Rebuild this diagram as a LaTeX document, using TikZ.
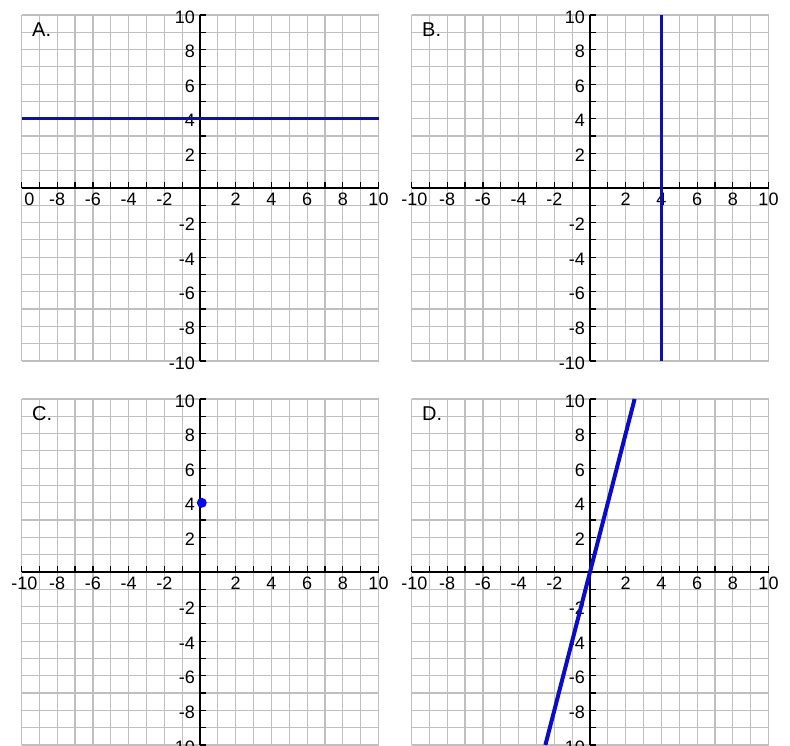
\documentclass[tikz,border=0pt]{standalone}
\usepackage{fontspec}
\setmainfont{Liberation Sans}
\definecolor{navyline}{RGB}{18,18,150}
\definecolor{steepline}{RGB}{12,12,200}
\definecolor{dotblue}{RGB}{10,10,235}

\begin{document}
\begin{tikzpicture}[
      x=1pt,y=1pt,
      frame/.style 2 args={shift={(#1,#2)},x=17.85pt,y=17.3pt},
      gridline/.style={draw=gray!50,line width=1.2pt},
      axis/.style={draw=black,line width=1.5pt},
      tickmark/.style={draw=black,line width=1.2pt},
      num/.style={font=\fontsize{18}{18}\selectfont,inner sep=0pt},
      tag/.style={font=\fontsize{20}{20}\selectfont,inner sep=0pt,anchor=base west},
      graph/.style={draw=navyline,line width=3pt}
    ]
    \clip (0,0) rectangle (790,746);
    \fill[white] (0,0) rectangle (790,746);
    \foreach \p/\ox/\oy in {A/200/558,B/590/558,C/200/174,D/590/174}{
      \begin{scope}[frame={\ox}{\oy}]
        \foreach \k in {-10,...,10}{
          \draw[gridline] (\k,-10) -- (\k,10);
          \draw[gridline] (-10,\k) -- (10,\k);
        }
        \draw[axis] (-10,0) -- (10,0);
        \draw[axis] (0,-10) -- (0,10);
        \foreach \k in {-10,...,10}{
          \draw[tickmark] (\k,0) -- ++(0,6pt);
          \draw[tickmark] (0,\k) -- ++(6pt,0);
        }
        \foreach \v in {-8,-6,-4,-2,2,4,6,8,10}{
          \node[num,anchor=north] (\p-x\v) at ([yshift=-5pt]\v,0) {\v};
        }
        \foreach \v in {-10,-8,-6,-4,-2,2,4,6,8,10}{
          \node[num,anchor=east] (\p-y\v) at ([xshift=-5pt,yshift=-2pt]0,\v) {\v};
        }
        \node[tag] (\p-tag) at (-168pt,151pt) {\p.};
      \end{scope}
    }
    \begin{scope}[frame={200}{558}]
      \node[num,anchor=north] (A-x-10) at ([xshift=8pt,yshift=-5pt]-10,0) {0};
      \coordinate (A-left) at (-10,4);
      \coordinate (A-right) at (10,4);
      \draw[graph] (A-left) -- (A-right);
    \end{scope}
    \begin{scope}[frame={590}{558}]
      \node[num,anchor=north] (B-x-10) at ([xshift=3pt,yshift=-5pt]-10,0) {-10};
      \coordinate (B-bottom) at (4,-10);
      \coordinate (B-top) at (4,10);
      \draw[graph] (B-bottom) -- (B-top);
    \end{scope}
    \begin{scope}[frame={200}{174}]
      \node[num,anchor=north] (C-x-10) at ([xshift=3pt,yshift=-5pt]-10,0) {-10};
      \node[circle,fill=dotblue,inner sep=0pt,minimum size=10pt] (C-point) at (0.1,4) {};
    \end{scope}
    \begin{scope}[frame={590}{174}]
      \node[num,anchor=north] (D-x-10) at ([xshift=3pt,yshift=-5pt]-10,0) {-10};
      \coordinate (D-low) at (-2.5,-10);
      \coordinate (D-high) at (2.5,10);
      \draw[graph,draw=steepline,line width=4pt] (D-low) -- (D-high);
    \end{scope}
  \end{tikzpicture}
\end{document}
